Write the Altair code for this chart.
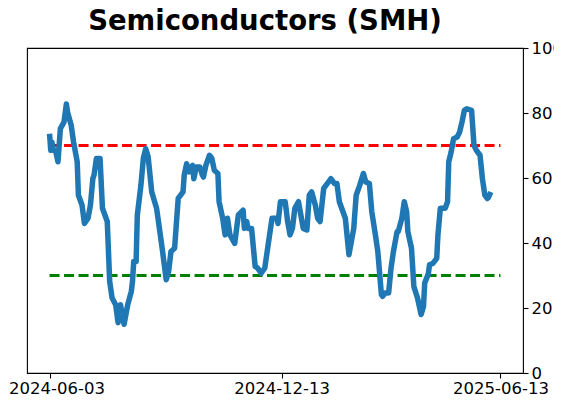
import altair as alt
import pandas as pd

dates = [
    "2024-06-03", "2024-06-04", "2024-06-05", "2024-06-06", "2024-06-08", "2024-06-10",
    "2024-06-12", "2024-06-15", "2024-06-17", "2024-06-18", "2024-06-21", "2024-06-23",
    "2024-06-26", "2024-06-27", "2024-06-30", "2024-07-02", "2024-07-05", "2024-07-07",
    "2024-07-09", "2024-07-10", "2024-07-12", "2024-07-15", "2024-07-17", "2024-07-21",
    "2024-07-23", "2024-07-25", "2024-07-28", "2024-07-30", "2024-08-01", "2024-08-04",
    "2024-08-07", "2024-08-10", "2024-08-11", "2024-08-12", "2024-08-14", "2024-08-15",
    "2024-08-18", "2024-08-20", "2024-08-22", "2024-08-24", "2024-08-27", "2024-08-31",
    "2024-09-02", "2024-09-05", "2024-09-08", "2024-09-10", "2024-09-12", "2024-09-15",
    "2024-09-16", "2024-09-18", "2024-09-22", "2024-09-23", "2024-09-25", "2024-09-27",
    "2024-09-30", "2024-10-01", "2024-10-03", "2024-10-06", "2024-10-08", "2024-10-09",
    "2024-10-11", "2024-10-14", "2024-10-16", "2024-10-18", "2024-10-21", "2024-10-22",
    "2024-10-25", "2024-10-27", "2024-10-29", "2024-10-31", "2024-11-04", "2024-11-07",
    "2024-11-11", "2024-11-12", "2024-11-14", "2024-11-15", "2024-11-18", "2024-11-21",
    "2024-11-23", "2024-11-26", "2024-11-29", "2024-12-03", "2024-12-05", "2024-12-09",
    "2024-12-10", "2024-12-12", "2024-12-16", "2024-12-18", "2024-12-20", "2024-12-22",
    "2024-12-24", "2024-12-27", "2024-12-29", "2024-12-31", "2025-01-03", "2025-01-05",
    "2025-01-07", "2025-01-10", "2025-01-12", "2025-01-14", "2025-01-17", "2025-01-19",
    "2025-01-22", "2025-01-23", "2025-01-26", "2025-01-28", "2025-01-30", "2025-02-04",
    "2025-02-07", "2025-02-11", "2025-02-13", "2025-02-16", "2025-02-19", "2025-02-21",
    "2025-02-24", "2025-02-26", "2025-03-01", "2025-03-03", "2025-03-06", "2025-03-07",
    "2025-03-09", "2025-03-12", "2025-03-14", "2025-03-16", "2025-03-19", "2025-03-20",
    "2025-03-23", "2025-03-25", "2025-03-27", "2025-03-28", "2025-03-31", "2025-04-02",
    "2025-04-05", "2025-04-08", "2025-04-10", "2025-04-11", "2025-04-14", "2025-04-15",
    "2025-04-18", "2025-04-21", "2025-04-22", "2025-04-24", "2025-04-28", "2025-04-30",
    "2025-05-01", "2025-05-03", "2025-05-05", "2025-05-08", "2025-05-10", "2025-05-12",
    "2025-05-14", "2025-05-16", "2025-05-20", "2025-05-22", "2025-05-24", "2025-05-27",
    "2025-05-29", "2025-05-31", "2025-06-02", "2025-06-03", "2025-06-05",
]

values = [
    73.6, 68.5, 71.0, 68.5, 68.5, 65.0,
    75.2, 77.2, 82.8, 80.2, 76.2, 71.0,
    65.0, 54.7, 51.7, 46.0, 47.6, 51.7,
    59.8, 60.9, 66.0, 66.0, 50.7, 46.6,
    28.2, 23.1, 21.0, 15.5, 21.0, 15.0,
    21.0, 25.1, 28.2, 34.3, 34.3, 48.6,
    57.8, 66.0, 69.0, 66.5, 55.7, 50.7,
    45.5, 37.4, 28.7, 31.2, 37.4, 38.4,
    43.5, 53.7, 55.7, 60.9, 64.4, 61.9,
    63.9, 59.8, 63.4, 63.4, 61.0, 60.3,
    63.9, 67.0, 66.0, 62.4, 61.4, 52.7,
    47.6, 42.5, 47.6, 42.5, 39.9, 48.6,
    50.1, 44.5, 46.6, 44.5, 44.5, 32.8,
    32.3, 30.7, 32.3, 42.5, 47.6, 47.6,
    46.0, 52.7, 52.7, 46.6, 42.5, 44.5,
    50.7, 52.7, 48.6, 44.5, 44.0, 54.7,
    55.7, 51.7, 47.6, 46.6, 56.8, 57.8,
    59.3, 59.8, 58.3, 58.3, 52.7, 47.6,
    36.4, 44.5, 54.7, 57.8, 61.4, 58.8,
    58.3, 49.6, 42.5, 37.4, 24.1, 23.6,
    24.6, 24.6, 32.3, 37.4, 43.5, 43.5,
    47.6, 52.7, 49.6, 43.5, 38.4, 26.6,
    23.1, 18.0, 20.5, 27.7, 30.5, 33.3,
    33.8, 35.3, 42.5, 50.7, 50.7, 52.7,
    65.0, 68.0, 72.1, 72.6, 74.1, 77.2,
    80.8, 81.3, 80.8, 70.0, 68.5, 67.0,
    59.8, 54.7, 53.7, 54.0, 55.7,
]

title_text = "Semiconductors (SMH)"
tick_dates = ["2024-06-03", "2024-12-13", "2025-06-13"]
y_ticks = [0, 20, 40, 60, 80, 100]
ref_levels = [70, 30]
ref_colors = ["#ff0000", "#008000"]
ref_start = "2024-06-03"
ref_end = "2025-06-13"

df = pd.DataFrame({"date": dates, "value": values})
refs = pd.DataFrame({
    "start": [ref_start] * len(ref_levels),
    "end": [ref_end] * len(ref_levels),
    "level": ref_levels,
    "color": ref_colors,
})

FONT = "DejaVu Sans"

x_scale = alt.Scale(
    type="utc",
    domain=[
        alt.DateTime(year=2024, month=5, date=15, hours=6, utc=True),
        alt.DateTime(year=2025, month=7, date=1, hours=18, utc=True),
    ],
)
y_scale = alt.Scale(domain=[0, 100], nice=False, zero=False)

x_axis = alt.Axis(
    values=[alt.DateTime(year=int(d[:4]), month=int(d[5:7]), date=int(d[8:]), utc=True) for d in tick_dates],
    labelExpr="utcFormat(datum.value, '%Y-%m-%d')",
    title=None,
    grid=False,
    domain=False,
    ticks=True,
    tickSize=5,
    tickColor="black",
    tickWidth=1.1,
    labelFontSize=16.5,
    labelColor="black",
    labelFont=FONT,
    labelPadding=2,
    labelFlush=False,
    labelOverlap=False,
    labelOffset={"condition": {"test": "datum.value < 1718000000000", "value": 7}, "value": 0},
)
y_axis = alt.Axis(
    orient="right",
    values=y_ticks,
    title=None,
    grid=False,
    domain=False,
    tickSize=5,
    tickColor="black",
    tickWidth=1.1,
    labelFontSize=16.5,
    labelColor="black",
    labelFont=FONT,
    labelPadding=3,
    labelFlush=False,
)

line = alt.Chart(df).mark_line(
    color="#1f77b4", strokeWidth=5.5, strokeJoin="round", strokeCap="butt"
).encode(
    x=alt.X("date:T", scale=x_scale, axis=x_axis),
    y=alt.Y("value:Q", scale=y_scale, axis=y_axis),
)

rules = alt.Chart(refs).mark_rule(strokeWidth=2.8, strokeDash=[10, 4.5]).encode(
    x=alt.X("start:T", scale=x_scale),
    x2="end:T",
    y=alt.Y("level:Q", scale=y_scale),
    color=alt.Color("color:N", scale=None),
)

chart = alt.layer(rules, line).properties(
    width=496,
    height=325,
    padding={"left": 19, "top": 40, "right": 31, "bottom": 28},
    autosize=alt.AutoSizeParams(type="none"),
    title=alt.TitleParams(
        title_text,
        fontSize=27.5,
        fontWeight="bold",
        font=FONT,
        color="black",
        anchor="middle",
        offset=5,
        dx=-10,
    ),
).configure_view(
    stroke="black", strokeWidth=1.1
)

chart.save("out.html", embed_options={"renderer": "svg", "actions": False})
